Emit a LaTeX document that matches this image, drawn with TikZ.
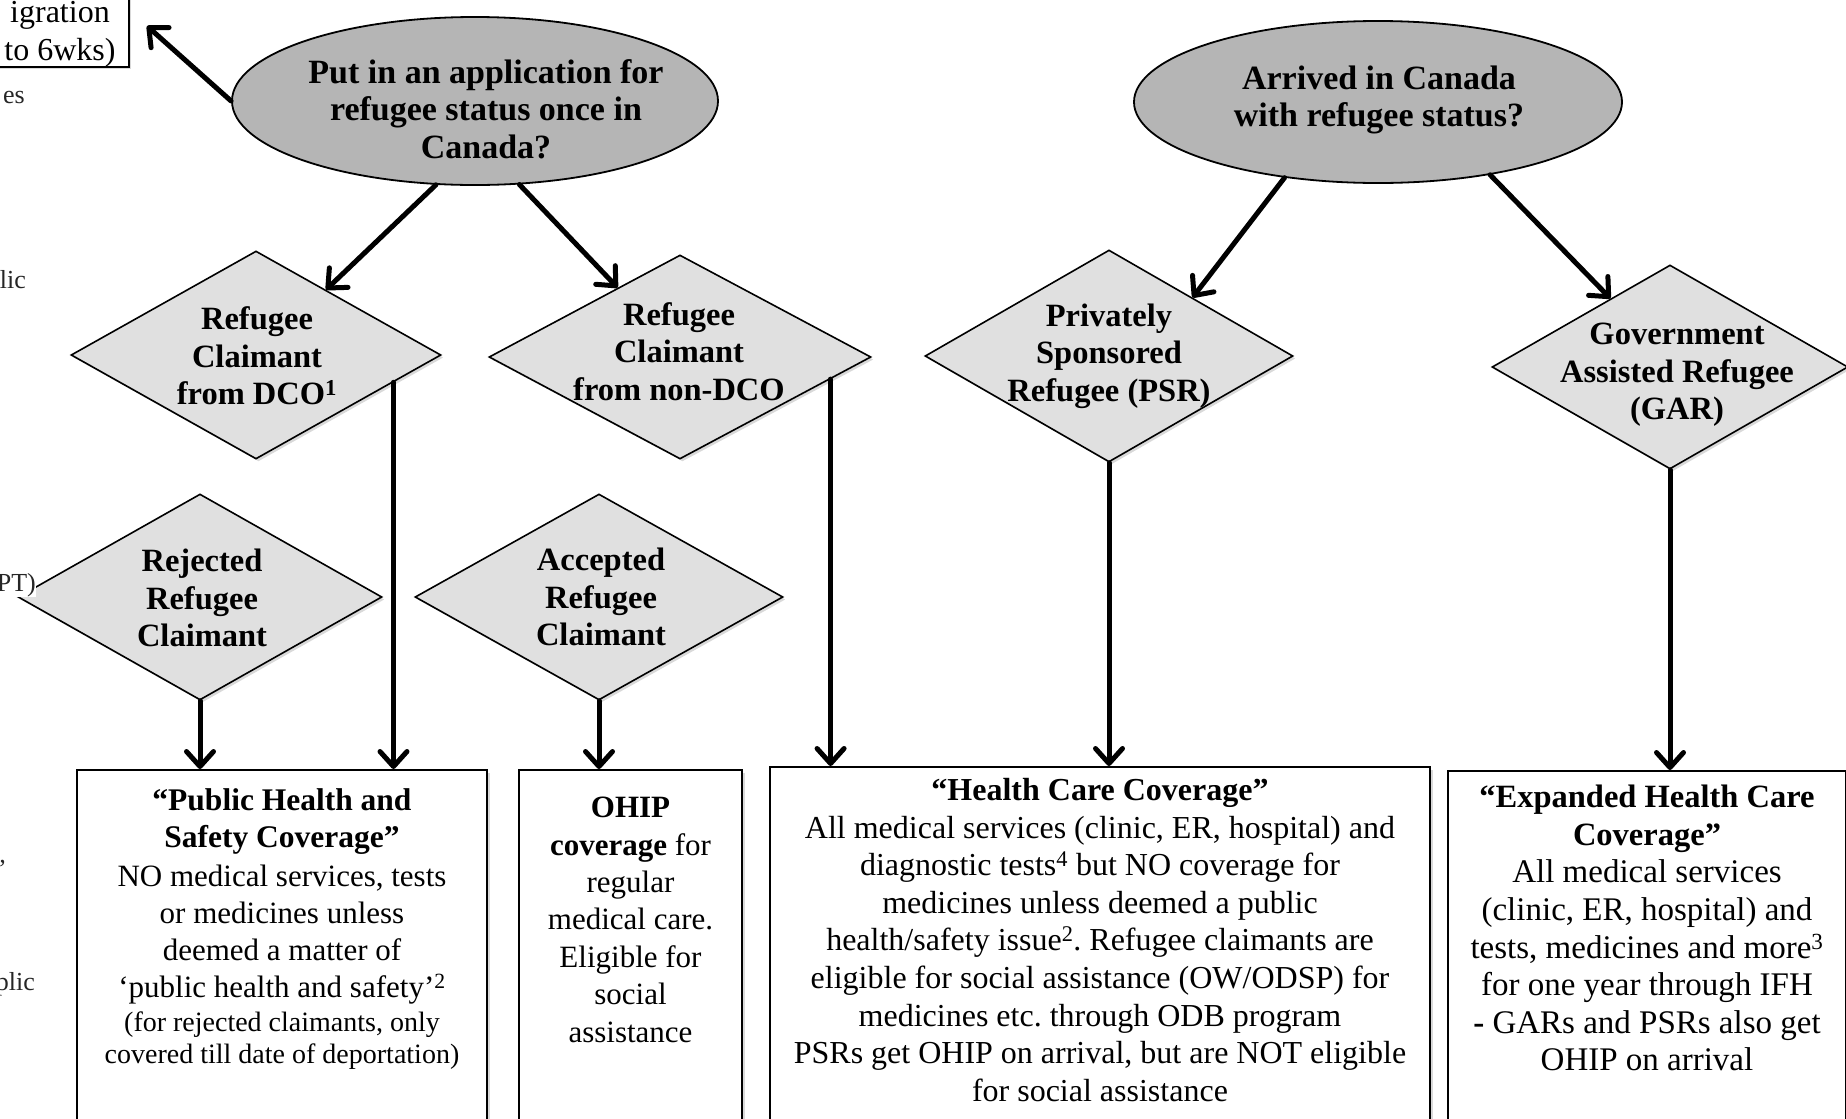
\documentclass[tikz,border=0pt]{standalone}
\usepackage{fontspec}
\setmainfont{Liberation Serif}
\usetikzlibrary{arrows.meta,shapes.geometric,shadows,calc}
\definecolor{ellfill}{RGB}{181,181,181}
\definecolor{diafill}{RGB}{224,224,224}
\setlength\parindent{0pt}
\setlength\parskip{0pt}
\hbadness=10000
\newcommand\fsz[2]{\fontsize{#1}{#2}\selectfont\spaceskip=\fontdimen2\font\xspaceskip=\fontdimen2\font\relax}
\begin{document}
\begin{tikzpicture}[x=1bp,y=-1bp,
  shad/.style={drop shadow={shadow xshift=2.5bp,shadow yshift=-2.5bp,opacity=0.3}},
  ell/.style={ellipse,draw,fill=ellfill,line width=1.8bp,inner sep=0},
  dia/.style={diamond,draw,fill=diafill,line width=1.6bp,inner sep=0,shad},
  boxn/.style={rectangle,draw,fill=white,line width=2.2bp,inner sep=0,shad},
  arr/.style={line width=5bp,line cap=round,line join=round,-{Straight Barb[length=15bp,width=27bp,round]}},
  etxt/.style={font=\fontsize{34bp}{37.7bp}\selectfont\bfseries,align=center,inner sep=0},
  dtxt/.style={font=\fontsize{32.5bp}{37.5bp}\selectfont\bfseries,align=center,inner sep=0},
  btxt/.style={align=center,inner sep=0,anchor=north},
  sidetxt/.style={font=\fontsize{26bp}{30bp}\selectfont,text=black!85,inner sep=0,anchor=east}
]
\useasboundingbox (0,0) rectangle (1846,1118);
\clip (0,0) rectangle (1846,1118);

% top-left box (cut by the edge)
\node[boxn,anchor=south east,minimum width=220bp,minimum height=140bp] (tl) at (130,68) {};
\node[font=\fontsize{32bp}{38bp}\selectfont,align=center,inner sep=0] (tltxt) at (60,34) {igration\\to 6wks)};
\coordinate (tltip) at (147,26);

% ellipses
\node[ell,minimum width=486bp,minimum height=168bp] (e1) at (475,101) {};
\node[etxt] (e1t) at (486,109) {Put in an application for\\refugee status once in\\Canada?};
\node[ell,minimum width=488bp,minimum height=162bp] (e2) at (1378,102) {};
\node[etxt] (e2t) at (1379,100) {Arrived in Canada\\with refugee status?};

% diamonds
\node[dia,minimum width=370bp,minimum height=208bp] (d1) at (256,355) {};
\node[dtxt] (d1t) at (257,356) {Refugee\\Claimant\\from DCO\textsuperscript{1}};
\node[dia,minimum width=382bp,minimum height=204bp] (d2) at (680,357) {};
\node[dtxt] (d2t) at (679,351.5) {Refugee\\Claimant\\from non-DCO};
\node[dia,minimum width=364bp,minimum height=206bp] (d3) at (200,597) {};
\node[dtxt] (d3t) at (202,598) {Rejected\\Refugee\\Claimant};
\node[dia,minimum width=368bp,minimum height=206bp] (d4) at (599,597) {};
\node[dtxt] (d4t) at (601,597) {Accepted\\Refugee\\Claimant};
\node[dia,minimum width=368bp,minimum height=212bp] (d5) at (1109,356) {};
\node[dtxt] (d5t) at (1109,356) {Privately\\Sponsored\\Refugee (PSR)};
\node[dia,minimum width=356bp,minimum height=204bp] (d6) at (1670,367) {};
\node[dtxt] (d6t) at (1677,375) {Government\\Assisted Refugee\\(GAR)};

% boxes
\node[boxn,anchor=north,minimum width=410bp,minimum height=400bp] (b1) at (282,769) {};
\node[boxn,anchor=north,minimum width=223bp,minimum height=400bp] (b2) at (630.5,769) {};
\node[boxn,anchor=north,minimum width=660bp,minimum height=400bp] (b3) at (1100,766) {};
\node[boxn,anchor=north,minimum width=398bp,minimum height=400bp] (b4) at (1647,770) {};

\node[btxt,text width=400bp] (b1t) at (282,788) {{\bfseries\fsz{31.5bp}{37bp}“Public Health and\\Safety Coverage”\par}\vspace{2.5bp}{\fsz{31bp}{37bp}NO medical services, tests\\or medicines unless\\deemed a matter of\\‘public health and safety’\textsuperscript{2}\par}\vspace{1bp}{\fsz{28bp}{32.5bp}(for rejected claimants, only\\covered till date of deportation)\par}};
\node[btxt,text width=215bp] (b2t) at (630.5,797) {\fsz{31bp}{37.4bp}\textbf{OHIP}\\\textbf{coverage} for\\regular\\medical care.\\Eligible for\\social\\assistance\par};
\node[btxt,text width=655bp] (b3t) at (1100,778) {\fsz{32bp}{37.6bp}\textbf{“Health Care Coverage”}\\All medical services (clinic, ER, hospital) and\\diagnostic tests\textsuperscript{4} but NO coverage for\\medicines unless deemed a public\\health/safety issue\textsuperscript{2}. Refugee claimants are\\eligible for social assistance (OW/ODSP) for\\medicines etc. through ODB program\\PSRs get OHIP on arrival, but are NOT eligible\\for social assistance\par};
\node[btxt,text width=395bp] (b4t) at (1647,785) {{\bfseries\fsz{32.5bp}{37.6bp}“Expanded Health Care\\Coverage”\par}{\fsz{33bp}{37.6bp}All medical services\\(clinic, ER, hospital) and\\tests, medicines and more\textsuperscript{3}\\for one year through IFH\\\textbf{-} GARs and PSRs also get\\OHIP on arrival\par}};

% connectors
\draw[arr] (e1.west) -- (tltip);
\draw[arr] (e1.245) -- (d1.43.7);
\draw[arr] (e1.298.7) -- (d2.132);
\draw[arr] (e2.219.3) -- (d5.35.6);
\draw[arr] (e2.327) -- (d6.131.2);

\coordinate (p1) at ($(d1.east)!0.26!(d1.south)$);
\coordinate (p2) at ($(d2.east)!0.215!(d2.south)$);
\draw[arr] (p1) -- (p1 |- b1.north);
\draw[arr] (p2) -- (p2 |- b3.north);
\draw[arr] (d3.south) -- (d3.south |- b1.north);
\draw[arr] (d4.south) -- (d4.south |- b2.north);
\draw[arr] (d5.south) -- (d5.south |- b3.north);
\draw[arr] (d6.south) -- (d6.south |- b4.north);

% text cut by the left edge
\node[sidetxt] (s1) at (25,97) {es};
\node[sidetxt] (s2) at (26,280) {lic};
\node[sidetxt,fill=white] (s3) at (36,585) {PT)};
\node[sidetxt] (s4) at (7,869) {’};
\node[sidetxt] (s5) at (35,984) {plic};
\end{tikzpicture}
\end{document}
